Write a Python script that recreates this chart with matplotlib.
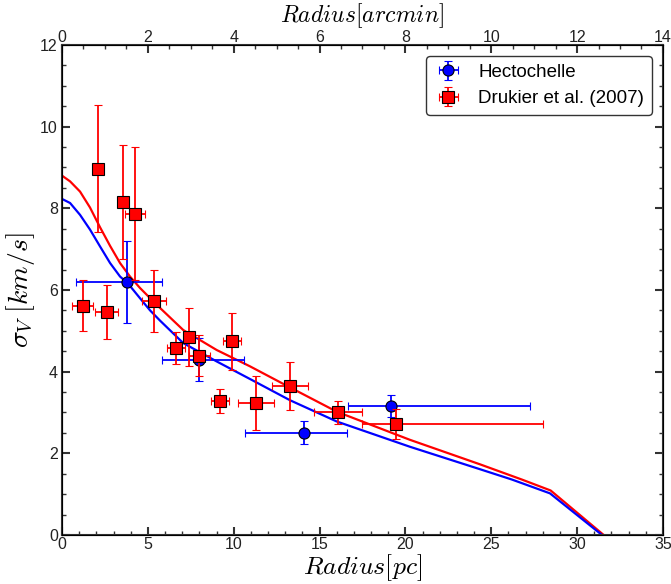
import matplotlib
matplotlib.use("Agg")
import matplotlib.pyplot as plt
from matplotlib.ticker import MultipleLocator

plt.rcParams["font.family"] = ["Liberation Sans", "DejaVu Sans"]
plt.rcParams["mathtext.fontset"] = "cm"

# Hectochelle dispersion profile (bins with asymmetric radial extent)
hecto_r = [3.81, 8.00, 14.09, 19.16]
hecto_sigma = [6.20, 4.29, 2.51, 3.17]
hecto_sigma_err = [1.00, 0.53, 0.27, 0.27]
hecto_r_lo = [3.00, 2.20, 3.43, 2.52]
hecto_r_hi = [2.00, 2.60, 2.53, 8.10]

# Drukier et al. (2007)
druk_r = [2.12, 3.53, 4.25, 1.20, 2.60, 5.36, 6.64, 7.41, 8.00, 9.88, 9.20, 11.30, 13.28, 16.09, 19.43]
druk_sigma = [8.97, 8.15, 7.87, 5.62, 5.46, 5.72, 4.58, 4.85, 4.39, 4.74, 3.28, 3.23, 3.65, 3.00, 2.71]
druk_sigma_err = [1.56, 1.40, 1.63, 0.63, 0.65, 0.76, 0.40, 0.71, 0.50, 0.70, 0.30, 0.67, 0.58, 0.27, 0.37]
druk_r_lo = [0.0, 0.0, 0.58, 0.60, 0.68, 0.69, 0.53, 0.30, 0.60, 0.53, 0.53, 1.03, 1.06, 1.41, 1.97]
druk_r_hi = [0.0, 0.0, 0.58, 0.60, 0.68, 0.69, 0.53, 0.30, 0.60, 0.53, 0.53, 1.03, 1.06, 1.41, 8.57]

# model profiles
model_red_r = [0.0, 0.47, 1.05, 1.63, 2.21, 2.80, 3.38, 3.96, 4.54, 5.13, 5.51, 7.06, 9.01, 10.95,
               12.89, 16.00, 20.27, 24.35, 26.77, 28.46, 31.55]
model_red_s = [8.80, 8.66, 8.41, 8.02, 7.54, 7.08, 6.66, 6.33, 6.05, 5.80, 5.64, 5.02, 4.53, 4.13,
               3.70, 3.02, 2.33, 1.73, 1.36, 1.09, 0.0]
model_blue_r = [0.0, 0.47, 1.05, 1.63, 2.21, 2.80, 3.38, 3.86, 4.54, 5.13, 5.71, 7.06, 9.01, 10.95,
                13.28, 16.00, 20.27, 24.35, 26.19, 28.42, 31.45]
model_blue_s = [8.23, 8.13, 7.84, 7.48, 7.07, 6.66, 6.33, 6.15, 5.80, 5.50, 5.25, 4.70, 4.25, 3.82,
                3.30, 2.78, 2.16, 1.61, 1.36, 1.02, 0.0]

fig = plt.figure(figsize=(6.71, 5.84), dpi=100)
ax = fig.add_axes([0.0924, 0.0839, 0.8956, 0.8391])

ax.plot(model_red_r, model_red_s, color="red", lw=1.6, zorder=1)
ax.plot(model_blue_r, model_blue_s, color="blue", lw=1.6, zorder=1)

ax.errorbar(hecto_r, hecto_sigma, yerr=hecto_sigma_err, xerr=[hecto_r_lo, hecto_r_hi],
            fmt="o", color="blue", mfc="blue", mec="black", ms=8, mew=0.8,
            elinewidth=1.3, capsize=3, capthick=1.3, label="Hectochelle", zorder=3)
ax.errorbar(druk_r, druk_sigma, yerr=druk_sigma_err, xerr=[druk_r_lo, druk_r_hi],
            fmt="s", color="red", mfc="red", mec="black", ms=8.5, mew=0.8,
            elinewidth=1.3, capsize=3, capthick=1.3, label="Drukier et al. (2007)", zorder=4)

ax.set_xlim(0, 35)
ax.set_ylim(0, 12)
ax.xaxis.set_major_locator(MultipleLocator(5))
ax.xaxis.set_minor_locator(MultipleLocator(1))
ax.yaxis.set_major_locator(MultipleLocator(2))
ax.yaxis.set_minor_locator(MultipleLocator(0.5))
ax.tick_params(which="both", direction="in", right=True, color="#333333",
               labelcolor="#222222", labelsize=11.5, pad=1.5)
ax.tick_params(axis="y", which="both", pad=3)
ax.tick_params(which="major", length=6, width=1.5)
ax.tick_params(which="minor", length=3, width=1)
for sp in ax.spines.values():
    sp.set_linewidth(1.5)
    sp.set_color("#333333")

ax.set_xlabel(r"$Radius[pc]$", fontsize=18.5, labelpad=0)
ax.set_ylabel(r"$\sigma_V\;[km/s]$", fontsize=20, labelpad=2)

top = ax.twiny()
top.set_xlim(0, 14)
top.xaxis.set_major_locator(MultipleLocator(2))
top.xaxis.set_minor_locator(MultipleLocator(0.5))
top.tick_params(which="both", direction="in", color="#333333",
                labelcolor="#222222", labelsize=11.5, pad=0)
top.tick_params(which="major", length=6, width=1.5)
top.tick_params(which="minor", length=3, width=1)
top.set_xlabel(r"$Radius[arcmin]$", fontsize=17, labelpad=6)

leg = ax.legend(loc="upper right", fontsize=13.5, frameon=True, fancybox=True,
                edgecolor="black", handlelength=1.6, borderaxespad=0.6)
leg.get_frame().set_linewidth(1.0)

fig.savefig("out.png", dpi=100)
plt.close(fig)
